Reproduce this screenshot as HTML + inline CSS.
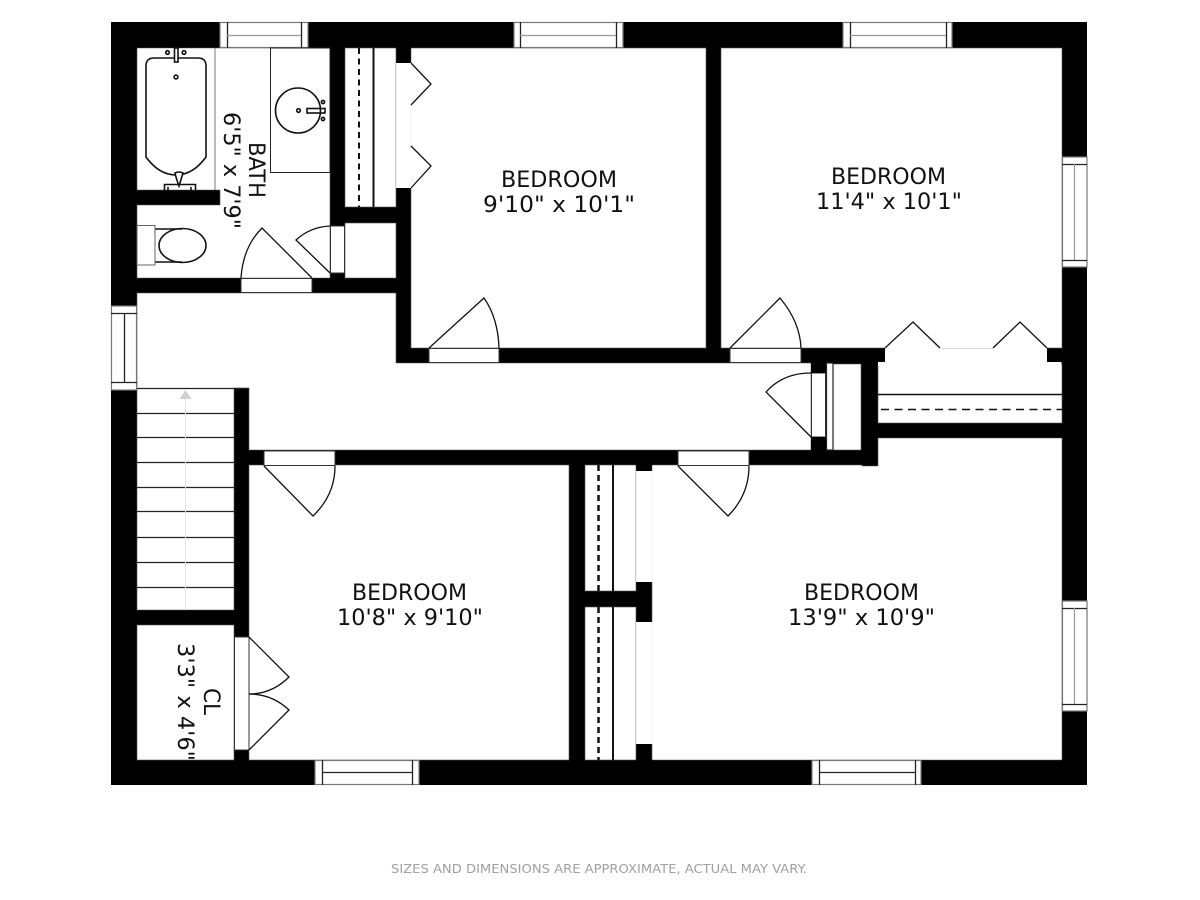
<!DOCTYPE html>
<html>
<head>
<meta charset="utf-8">
<style>
html,body{margin:0;padding:0;background:#fff;width:1200px;height:900px;overflow:hidden}
svg{display:block}
text{font-family:"DejaVu Sans","Liberation Sans",sans-serif;fill:#111}
.t{font-size:22px}
</style>
</head>
<body>
<svg width="1200" height="900" viewBox="0 0 1200 900" xmlns="http://www.w3.org/2000/svg">
<rect width="1200" height="900" fill="#fff"/>
<!-- outer wall mass -->
<rect x="111" y="22" width="976" height="763" fill="#000"/>

<!-- rooms -->
<g fill="#fff" stroke="#555" stroke-width="0.6">
  <path d="M137 48H330V278H137V205H220V190H137Z"/>
  <rect x="345" y="48" width="51" height="159"/>
  <rect x="345" y="223" width="51" height="55"/>
  <rect x="411" y="48" width="295" height="300"/>
  <rect x="721" y="48" width="341" height="300"/>
  <rect x="878" y="364" width="184" height="59"/>
  <path d="M137 293H396V363H811V450H249V388H234V610H137Z"/>
  <rect x="826" y="364" width="35" height="86"/>
  <rect x="137" y="625" width="97" height="135"/>
  <rect x="249" y="465" width="320" height="295"/>
  <rect x="585" y="465" width="51" height="126"/>
  <rect x="585" y="607" width="51" height="153"/>
  <path d="M652 465H862V466H878V438H1062V760H652Z"/>
</g>

<!-- openings -->
<g fill="#fff" stroke="none">
  <rect x="396" y="63" width="16" height="125"/>
  <rect x="885" y="347" width="162" height="18.500"/>
  <rect x="878" y="362" width="183.500" height="4"/>
  <rect x="636" y="471" width="17" height="111"/>
  <rect x="636" y="622" width="17" height="122"/>
</g>
<g stroke="#f0f0f0" stroke-width="1" fill="none">
  <path d="M396.500 63V188M411 105V146"/>
  <path d="M636.500 471V582M652 471V582M636.500 622V744M652 622V744"/>
</g>
<path d="M942 348.500H993" stroke="#ddd" stroke-width="1"/>

<!-- door slabs in walls -->
<g fill="#fff" stroke="#333" stroke-width="1">
  <rect x="241" y="278.500" width="71" height="14"/>
  <rect x="330.500" y="226" width="14" height="47"/>
  <rect x="429" y="348.500" width="70" height="14"/>
  <rect x="730" y="348.500" width="71" height="14"/>
  <rect x="811.500" y="373" width="14" height="64"/>
  <rect x="264" y="451" width="71" height="14.500"/>
  <rect x="678" y="451" width="71" height="14.500"/>
  <rect x="234.500" y="637" width="14.500" height="113"/>
</g>

<!-- door leaves -->
<g fill="none" stroke="#111" stroke-width="1.300">
  <path d="M241 278Q243 247 262 228L312 278"/>
  <path d="M330 226Q310 227 296 240L330 273"/>
  <path d="M429 348L484 298Q498 318 499 348"/>
  <path d="M730 348L780 298Q800 322 801 348"/>
  <path d="M811 437L766 392Q783 373 811 373"/>
  <path d="M264 466L313 516Q335 495 335 466"/>
  <path d="M678 466L728 516Q749 495 749 466"/>
  <path d="M249 637L289 677Q272 694 249 694"/>
  <path d="M249 750L289 710Q272 694 249 694"/>
  <path d="M411 63L431 84L411 105"/>
  <path d="M411 146L431 166L411 188"/>
  <path d="M885 348L913 322L940 348"/>
  <path d="M993 348L1020 322L1047 348"/>
</g>

<!-- closet rods and shelves -->
<g fill="none" stroke="#111">
  <path d="M373.500 48V207" stroke-width="2"/>
  <path d="M359 48V207" stroke-width="2" stroke-dasharray="6 4.500"/>
  <path d="M878 394.500H1062" stroke-width="1.500"/>
  <path d="M881 409.500H1062" stroke-width="1.500" stroke-dasharray="8 5.500"/>
  <path d="M613 465V591M613 607V760" stroke-width="2"/>
  <path d="M598.500 465V591M598.500 607V760" stroke-width="2.500" stroke-dasharray="6 4"/>
</g>
<rect x="826.500" y="363" width="6.500" height="87" fill="#fff" stroke="#222" stroke-width="1.200"/>
<rect x="811" y="363" width="15" height="10" fill="#000"/>
<rect x="811" y="437" width="15" height="14" fill="#000"/>

<!-- windows -->
<g fill="#fff" stroke="#777" stroke-width="1.200">
  <rect x="220" y="22.500" width="88" height="25"/>
  <rect x="514" y="22.500" width="109" height="25"/>
  <rect x="843" y="22.500" width="109" height="25"/>
  <rect x="315" y="760.500" width="104" height="24"/>
  <rect x="812" y="760.500" width="109" height="24"/>
  <rect x="1062.500" y="157" width="24.500" height="110"/>
  <rect x="1062.500" y="601" width="24.500" height="110"/>
  <rect x="111.500" y="306" width="25" height="84"/>
</g>
<g fill="none" stroke="#222" stroke-width="1.300">
  <path d="M227.500 22V48M301.500 22V48"/>
  <path d="M520.500 22V48M616.500 22V48"/>
  <path d="M850.500 22V48M946.500 22V48"/>
  <path d="M322.500 760V785M412.500 760V785"/>
  <path d="M819.500 760V785M915.500 760V785"/>
  <path d="M1062 164.500H1087M1062 260.500H1087"/>
  <path d="M1062 608.500H1087M1062 704.500H1087"/>
  <path d="M111 313.500H137M111 382.500H137"/>
  <path d="M322 772.500H412M819 772.500H915"/>
  <path d="M124.500 313V382"/>
</g>
<g fill="none" stroke="#999" stroke-width="1.200">
  <path d="M227 35.500H301M520 35.500H616M850 35.500H946"/>
  <path d="M1074.500 164V260M1074.500 608V704"/>
</g>

<!-- stairs -->
<g stroke="#222" stroke-width="1.300" fill="none">
  <path d="M137 388.500H249"/>
  <path d="M137 413.500H234M137 437.500H234M137 462.500H234M137 487.500H234M137 511.500H234M137 537.500H234M137 562.500H234M137 587.500H234"/>
</g>
<path d="M185.500 399V610" stroke="#e6e6e6" stroke-width="1"/>
<path d="M185.500 390L191.500 399H179.500Z" fill="#d0d0d0"/>

<!-- bathroom fixtures -->
<path d="M215 48V190" stroke="#777" stroke-width="1"/>
<rect x="270.500" y="48" width="59.500" height="124.500" fill="#fff" stroke="#222" stroke-width="1"/>
<g fill="none" stroke="#111" stroke-width="1.600">
  <path d="M146 66Q146 58 154 58H198Q206 58 206 66V157C198 168 188 175 176 175C164 175 154 168 146 157Z"/>
  <circle cx="167.500" cy="52.500" r="1.800"/>
  <circle cx="184" cy="52.500" r="1.800"/>
  <circle cx="176" cy="77" r="1.900"/>
  <rect x="174.500" y="48" width="3.500" height="14" fill="#fff"/>
  <path d="M175 173Q179 171 183 173L179 186Q176 178 175 173Z" fill="#fff"/>
  <path d="M164.500 190V184.500H195.500V190M168 190V187M191 190V187"/>
  <circle cx="298" cy="110.500" r="22.500"/>
  <circle cx="298.500" cy="110.500" r="1.800"/>
  <rect x="307" y="108.500" width="18" height="4.500"/>
  <circle cx="323" cy="102" r="1.600"/>
  <circle cx="323" cy="119" r="1.600"/>
  <path d="M155 229H182M155 262H182"/>
  <ellipse cx="182.500" cy="245.500" rx="23.500" ry="17"/>
</g>
<rect x="137" y="225.500" width="18" height="39.500" fill="#fff" stroke="#666" stroke-width="1"/>

<!-- labels -->
<g>
  <text class="t" x="501" y="187" textLength="116" lengthAdjust="spacingAndGlyphs">BEDROOM</text>
  <text class="t" x="483" y="212" textLength="152" lengthAdjust="spacingAndGlyphs">9'10" x 10'1"</text>
  <text class="t" x="831" y="184" textLength="115" lengthAdjust="spacingAndGlyphs">BEDROOM</text>
  <text class="t" x="816" y="209" textLength="146" lengthAdjust="spacingAndGlyphs">11'4" x 10'1"</text>
  <text class="t" x="352" y="600" textLength="115" lengthAdjust="spacingAndGlyphs">BEDROOM</text>
  <text class="t" x="337" y="625" textLength="146" lengthAdjust="spacingAndGlyphs">10'8" x 9'10"</text>
  <text class="t" x="804" y="600" textLength="115" lengthAdjust="spacingAndGlyphs">BEDROOM</text>
  <text class="t" x="788" y="625" textLength="147" lengthAdjust="spacingAndGlyphs">13'9" x 10'9"</text>
  <text class="t" transform="translate(249 142) rotate(90)" textLength="56" lengthAdjust="spacingAndGlyphs">BATH</text>
  <text class="t" transform="translate(224 112) rotate(90)" textLength="117" lengthAdjust="spacingAndGlyphs">6'5" x 7'9"</text>
  <text class="t" transform="translate(204 688) rotate(90)" textLength="27" lengthAdjust="spacingAndGlyphs">CL</text>
  <text class="t" transform="translate(178 643) rotate(90)" textLength="118" lengthAdjust="spacingAndGlyphs">3'3" x 4'6"</text>
</g>
<text x="391" y="873" font-size="12" style="fill:#a0a0a0" textLength="416" lengthAdjust="spacingAndGlyphs">SIZES AND DIMENSIONS ARE APPROXIMATE, ACTUAL MAY VARY.</text>
</svg>
</body>
</html>
